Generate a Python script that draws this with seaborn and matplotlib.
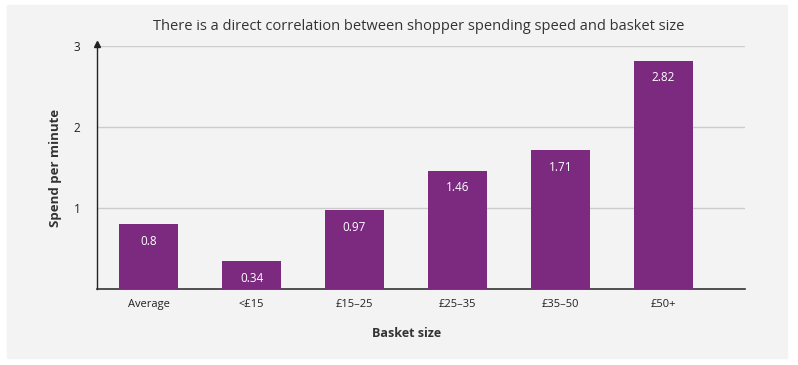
import matplotlib
matplotlib.use("Agg")
import matplotlib.pyplot as plt
import seaborn as sns
import pandas as pd
from matplotlib.patches import Rectangle

# data
categories = ["Average", "<£15", "£15–25", "£25–35", "£35–50", "£50+"]
spend = [0.8, 0.34, 0.97, 1.46, 1.71, 2.82]
value_labels = ["0.8", "0.34", "0.97", "1.46", "1.71", "2.82"]

title = "There is a direct correlation between shopper spending speed and basket size"
bar_color = "#7b2a80"
panel = "#f3f3f3"

sns.set_theme(style="white")
plt.rcParams["font.family"] = ["Open Sans", "DejaVu Sans"]

df = pd.DataFrame({"cat": categories, "spend": spend})

fig = plt.figure(figsize=(7.98, 3.65), dpi=100)
fig.patch.set_facecolor("white")
# grey panel behind everything
fig.patches.append(Rectangle((7 / 798, 1 - 358 / 365), 780 / 798, 353 / 365,
                             transform=fig.transFigure, color=panel, zorder=-1))

ax = fig.add_axes([97 / 798, 1 - 289 / 365, 648 / 798, 243 / 365])
ax.set_facecolor(panel)

sns.barplot(data=df, x="cat", y="spend", order=categories, color=bar_color,
            saturation=1, width=0.58, linewidth=0, ax=ax, zorder=3)

ax.set_ylim(0, 3)
ax.set_xlim(-0.5, 5.79)
ax.set_yticks([1, 2, 3])
ax.yaxis.grid(True, color="#cccccc", linewidth=1)
ax.set_axisbelow(True)

for s in ["top", "right"]:
    ax.spines[s].set_visible(False)
ax.spines["left"].set_color("#222222")
ax.spines["left"].set_linewidth(1)
ax.spines["bottom"].set_color("#333333")
ax.spines["bottom"].set_linewidth(1.2)
ax.plot(0, 1.01, marker="^", color="#222222", markersize=5,
        transform=ax.transAxes, clip_on=False, zorder=5)

ax.tick_params(axis="y", length=0, pad=12, labelsize=8.5, labelcolor="#222222")
ax.tick_params(axis="x", length=0, pad=7, labelsize=8, labelcolor="#222222")

ax.bar_label(ax.containers[0], labels=value_labels, padding=-17,
             color="white", fontsize=8.5)

ax.set_xlabel("Basket size", fontsize=9, fontweight="bold", color="#333333")
ax.xaxis.set_label_coords(0.478, -0.155)
ax.set_ylabel("Spend per minute", fontsize=9.5, fontweight="bold", color="#333333", labelpad=8)

fig.text(419 / 798, 1 - 27 / 365, title, ha="center", va="center",
         fontsize=10.5, color="#333333")

fig.savefig("out.png", dpi=100)
